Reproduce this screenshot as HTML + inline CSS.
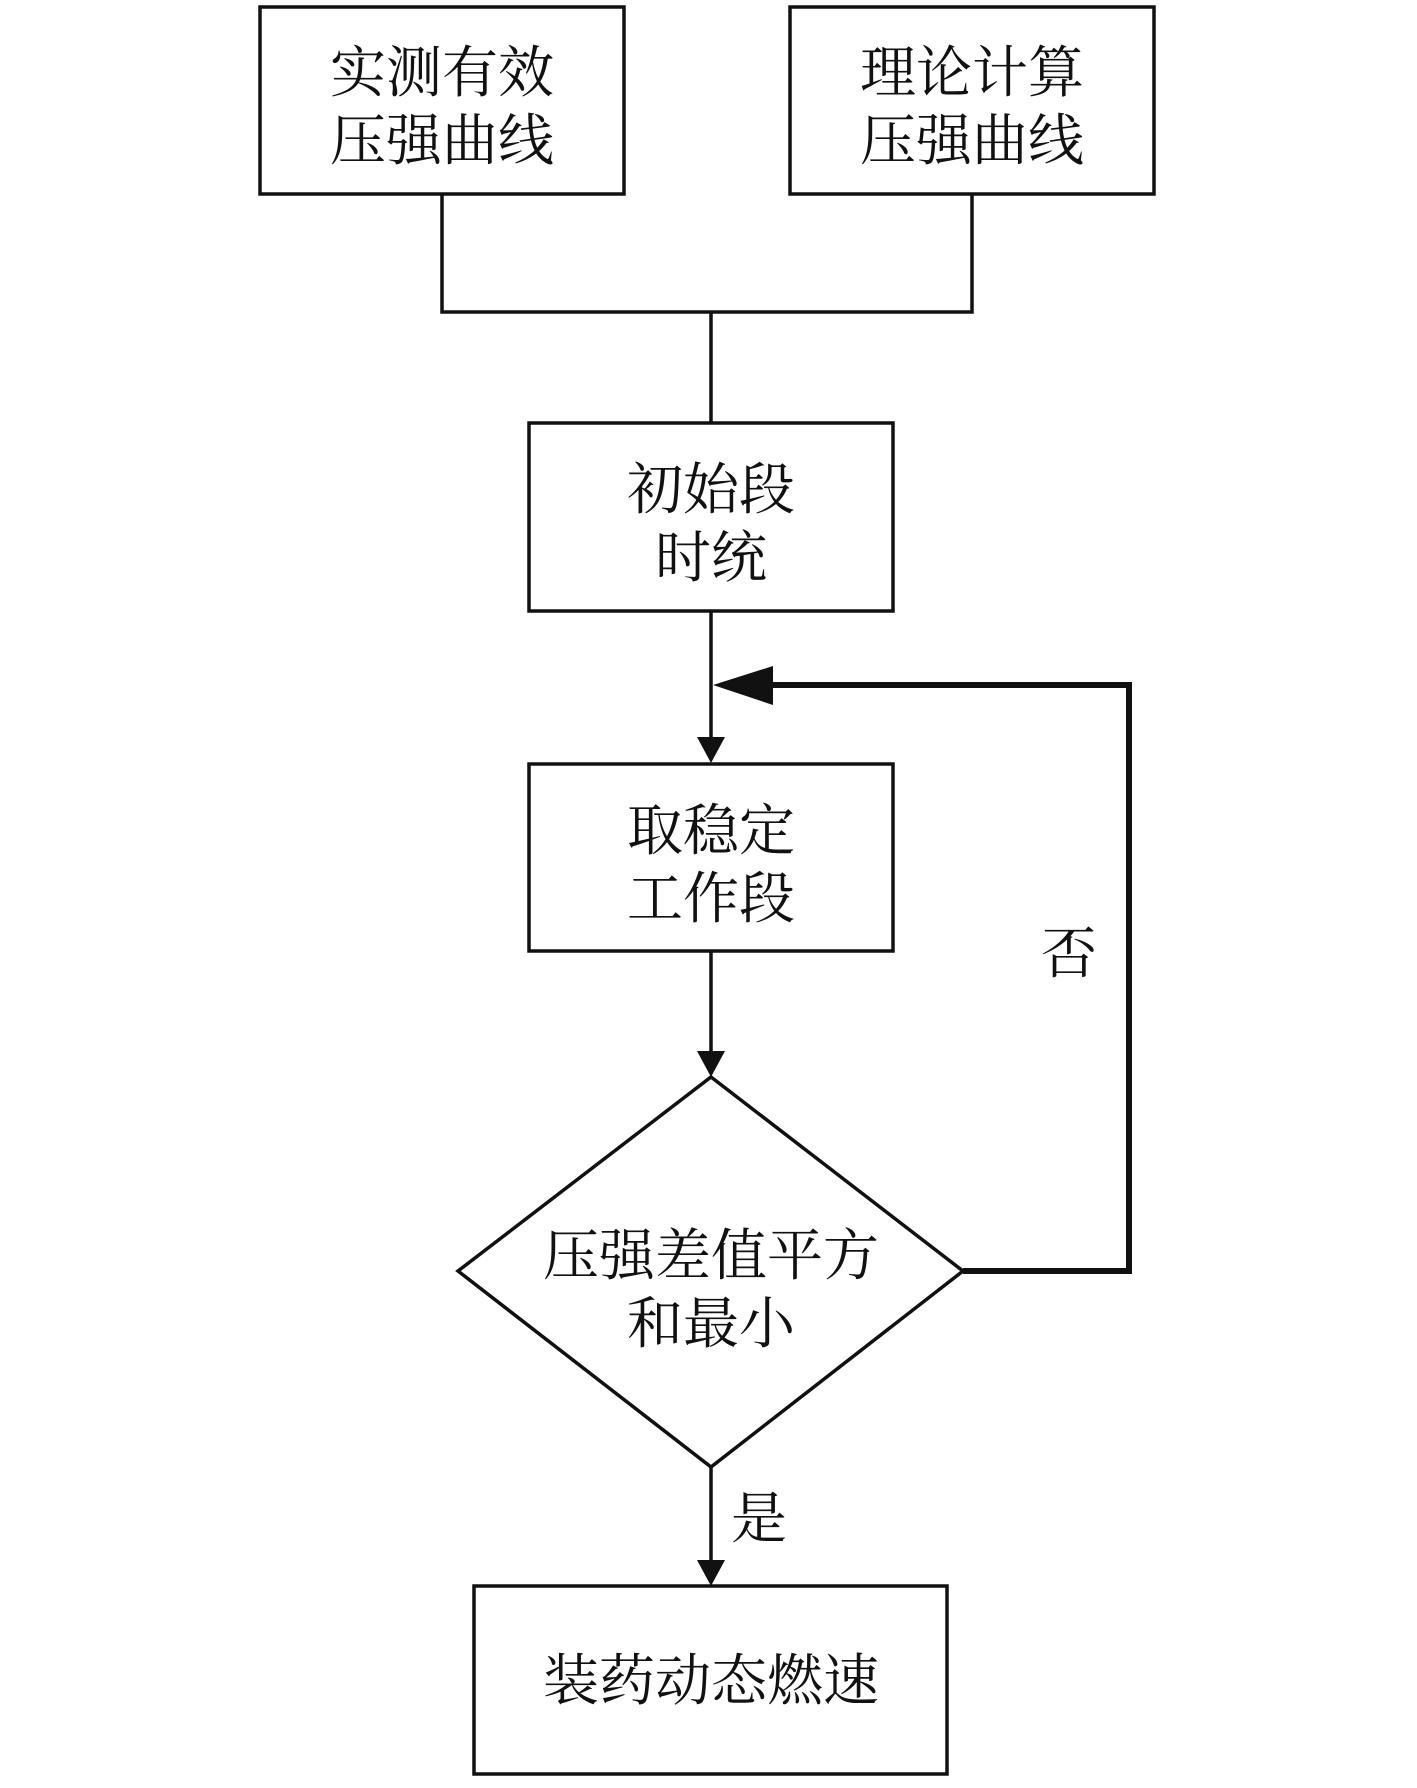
<!DOCTYPE html>
<html><head><meta charset="utf-8"><style>
html,body{margin:0;padding:0;background:#fff;}
svg text{font-family:"Liberation Serif","Noto Serif CJK SC","Noto Sans CJK SC",serif;font-size:56px;fill:#111;text-anchor:middle;}
</style></head><body>
<svg width="1417" height="1783" viewBox="0 0 1417 1783" xmlns="http://www.w3.org/2000/svg">
<g fill="none" stroke="#111" stroke-width="3.5">
<rect x="260" y="7" width="364" height="187"/>
<rect x="790" y="7" width="364" height="187"/>
<polyline points="442,194 442,312 972,312 972,194"/>
<line x1="711" y1="312" x2="711" y2="423"/>
<rect x="529" y="423" width="364" height="188"/>
<line x1="711" y1="611" x2="711" y2="740"/>
<rect x="529" y="764" width="364" height="187"/>
<line x1="711" y1="951" x2="711" y2="1052"/>
<polygon points="711,1077 963,1271 711,1467 458,1271"/>
<line x1="711" y1="1467" x2="711" y2="1560"/>
<rect x="474" y="1586" width="473" height="188"/>
</g>
<polyline points="963,1271 1129,1271 1129,685 770,685" fill="none" stroke="#111" stroke-width="6"/>
<polygon points="713,685 773,666 773,705" fill="#111"/>
<polygon points="697,737 725,737 711,763" fill="#111"/>
<polygon points="697,1051 725,1051 711,1077" fill="#111"/>
<polygon points="697,1560 725,1560 711,1586" fill="#111"/>
<text x="442" y="92">实测有效</text>
<text x="442" y="160">压强曲线</text>
<text x="972" y="92">理论计算</text>
<text x="972" y="160">压强曲线</text>
<text x="711" y="509">初始段</text>
<text x="711" y="577">时统</text>
<text x="711" y="850">取稳定</text>
<text x="711" y="918">工作段</text>
<text x="711" y="1275">压强差值平方</text>
<text x="711" y="1343">和最小</text>
<text x="1069" y="973">否</text>
<text x="759" y="1538">是</text>
<text x="711" y="1700">装药动态燃速</text>
</svg>
</body></html>
